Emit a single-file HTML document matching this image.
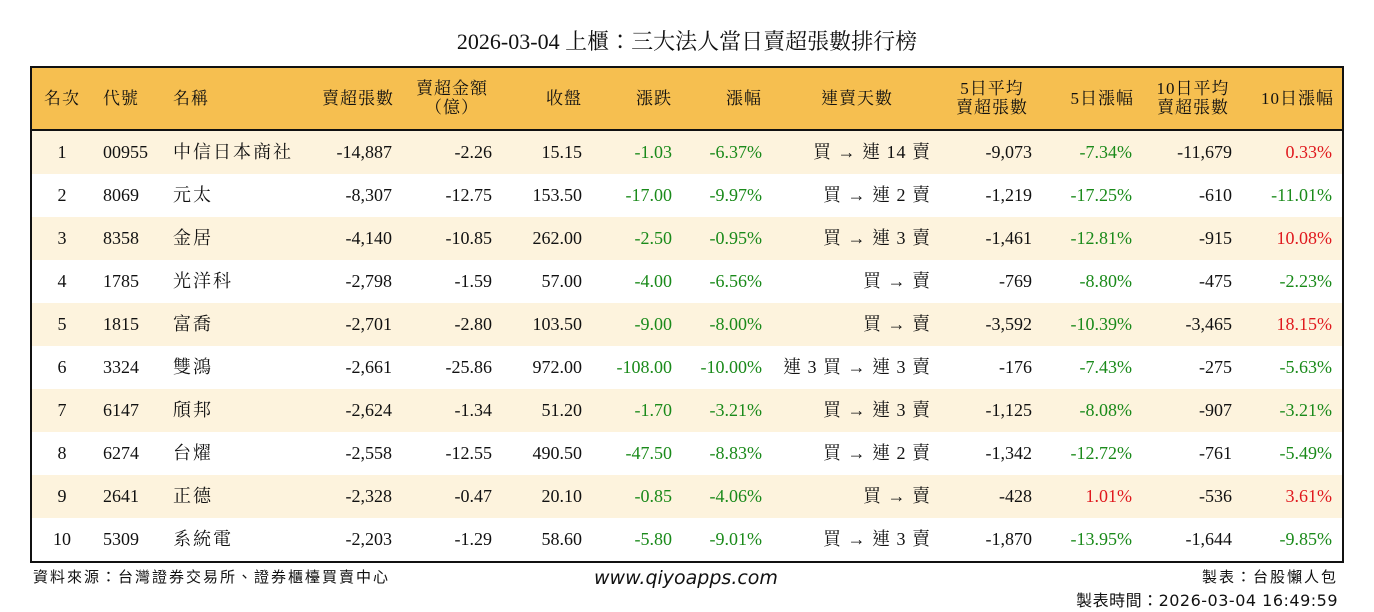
<!DOCTYPE html>
<html><head><meta charset="utf-8"><style>
body{margin:0;width:1374px;height:612px;background:#fff;position:relative;overflow:hidden;font-family:"Liberation Serif","Noto Serif CJK TC","Noto Serif CJK SC",serif;color:#111}
.t{position:absolute;top:26px;left:0;width:1374px;text-align:center;font-size:22px;line-height:32px}
.box{position:absolute;left:30px;top:66px;width:1310px;height:493px;border:2px solid #111}
.hd{position:absolute;left:0;top:0;width:1310px;height:61px;background:#F6BF50;border-bottom:3px solid #111}
.r{position:absolute;left:0;width:1310px;height:43px;line-height:43px;font-size:18px}
.r.o{background:#FDF3DD}
.c{position:absolute;white-space:nowrap}
.n{text-align:right}
.s{letter-spacing:1px}
.g{color:#1a8a1a}.red{color:#e0191e}
.h{position:absolute;font-size:17px;line-height:19px;text-align:center;white-space:nowrap;letter-spacing:1px}
.f{position:absolute;font-family:"DejaVu Sans","Noto Sans CJK TC",sans-serif;font-size:15px;letter-spacing:2px}
</style></head><body>
<div class="t">2026-03-04 上櫃：三大法人當日賣超張數排行榜</div>
<div class="box">
<div class="hd">
<div class="h" style="left:0;width:60px;top:21px">名次</div>
<div class="h" style="left:71px;top:21px">代號</div>
<div class="h" style="left:141px;top:21px">名稱</div>
<div class="h" style="left:282px;width:80px;top:21px;text-align:right">賣超張數</div>
<div class="h" style="left:380px;width:80px;top:11px">賣超金額<br>（億）</div>
<div class="h" style="left:500px;width:50px;top:21px;text-align:right">收盤</div>
<div class="h" style="left:590px;width:50px;top:21px;text-align:right">漲跌</div>
<div class="h" style="left:680px;width:50px;top:21px;text-align:right">漲幅</div>
<div class="h" style="left:785px;width:80px;top:21px">連賣天數</div>
<div class="h" style="left:918px;width:84px;top:11px">5日平均<br>賣超張數</div>
<div class="h" style="left:1020px;width:82px;top:21px;text-align:right">5日漲幅</div>
<div class="h" style="left:1118px;width:86px;top:11px">10日平均<br>賣超張數</div>
<div class="h" style="left:1210px;width:92px;top:21px;text-align:right">10日漲幅</div>
</div>
</div>
<div style="position:absolute;left:32px;top:131px">
<div class="r o" style="top:0"><span class="c" style="left:0;width:60px;text-align:center">1</span><span class="c" style="left:71px">00955</span><span class="c" style="left:141px;letter-spacing:2px">中信日本商社</span><span class="c n" style="right:950px">-14,887</span><span class="c n" style="right:850px">-2.26</span><span class="c n" style="right:760px">15.15</span><span class="c n g" style="right:670px">-1.03</span><span class="c n g" style="right:580px">-6.37%</span><span class="c n s" style="right:411px">買 → 連 14 賣</span><span class="c n" style="right:310px">-9,073</span><span class="c n g" style="right:210px">-7.34%</span><span class="c n" style="right:110px">-11,679</span><span class="c n red" style="right:10px">0.33%</span></div>
<div class="r" style="top:43px"><span class="c" style="left:0;width:60px;text-align:center">2</span><span class="c" style="left:71px">8069</span><span class="c" style="left:141px;letter-spacing:2px">元太</span><span class="c n" style="right:950px">-8,307</span><span class="c n" style="right:850px">-12.75</span><span class="c n" style="right:760px">153.50</span><span class="c n g" style="right:670px">-17.00</span><span class="c n g" style="right:580px">-9.97%</span><span class="c n s" style="right:411px">買 → 連 2 賣</span><span class="c n" style="right:310px">-1,219</span><span class="c n g" style="right:210px">-17.25%</span><span class="c n" style="right:110px">-610</span><span class="c n g" style="right:10px">-11.01%</span></div>
<div class="r o" style="top:86px"><span class="c" style="left:0;width:60px;text-align:center">3</span><span class="c" style="left:71px">8358</span><span class="c" style="left:141px;letter-spacing:2px">金居</span><span class="c n" style="right:950px">-4,140</span><span class="c n" style="right:850px">-10.85</span><span class="c n" style="right:760px">262.00</span><span class="c n g" style="right:670px">-2.50</span><span class="c n g" style="right:580px">-0.95%</span><span class="c n s" style="right:411px">買 → 連 3 賣</span><span class="c n" style="right:310px">-1,461</span><span class="c n g" style="right:210px">-12.81%</span><span class="c n" style="right:110px">-915</span><span class="c n red" style="right:10px">10.08%</span></div>
<div class="r" style="top:129px"><span class="c" style="left:0;width:60px;text-align:center">4</span><span class="c" style="left:71px">1785</span><span class="c" style="left:141px;letter-spacing:2px">光洋科</span><span class="c n" style="right:950px">-2,798</span><span class="c n" style="right:850px">-1.59</span><span class="c n" style="right:760px">57.00</span><span class="c n g" style="right:670px">-4.00</span><span class="c n g" style="right:580px">-6.56%</span><span class="c n s" style="right:411px">買 → 賣</span><span class="c n" style="right:310px">-769</span><span class="c n g" style="right:210px">-8.80%</span><span class="c n" style="right:110px">-475</span><span class="c n g" style="right:10px">-2.23%</span></div>
<div class="r o" style="top:172px"><span class="c" style="left:0;width:60px;text-align:center">5</span><span class="c" style="left:71px">1815</span><span class="c" style="left:141px;letter-spacing:2px">富喬</span><span class="c n" style="right:950px">-2,701</span><span class="c n" style="right:850px">-2.80</span><span class="c n" style="right:760px">103.50</span><span class="c n g" style="right:670px">-9.00</span><span class="c n g" style="right:580px">-8.00%</span><span class="c n s" style="right:411px">買 → 賣</span><span class="c n" style="right:310px">-3,592</span><span class="c n g" style="right:210px">-10.39%</span><span class="c n" style="right:110px">-3,465</span><span class="c n red" style="right:10px">18.15%</span></div>
<div class="r" style="top:215px"><span class="c" style="left:0;width:60px;text-align:center">6</span><span class="c" style="left:71px">3324</span><span class="c" style="left:141px;letter-spacing:2px">雙鴻</span><span class="c n" style="right:950px">-2,661</span><span class="c n" style="right:850px">-25.86</span><span class="c n" style="right:760px">972.00</span><span class="c n g" style="right:670px">-108.00</span><span class="c n g" style="right:580px">-10.00%</span><span class="c n s" style="right:411px">連 3 買 → 連 3 賣</span><span class="c n" style="right:310px">-176</span><span class="c n g" style="right:210px">-7.43%</span><span class="c n" style="right:110px">-275</span><span class="c n g" style="right:10px">-5.63%</span></div>
<div class="r o" style="top:258px"><span class="c" style="left:0;width:60px;text-align:center">7</span><span class="c" style="left:71px">6147</span><span class="c" style="left:141px;letter-spacing:2px">頎邦</span><span class="c n" style="right:950px">-2,624</span><span class="c n" style="right:850px">-1.34</span><span class="c n" style="right:760px">51.20</span><span class="c n g" style="right:670px">-1.70</span><span class="c n g" style="right:580px">-3.21%</span><span class="c n s" style="right:411px">買 → 連 3 賣</span><span class="c n" style="right:310px">-1,125</span><span class="c n g" style="right:210px">-8.08%</span><span class="c n" style="right:110px">-907</span><span class="c n g" style="right:10px">-3.21%</span></div>
<div class="r" style="top:301px"><span class="c" style="left:0;width:60px;text-align:center">8</span><span class="c" style="left:71px">6274</span><span class="c" style="left:141px;letter-spacing:2px">台燿</span><span class="c n" style="right:950px">-2,558</span><span class="c n" style="right:850px">-12.55</span><span class="c n" style="right:760px">490.50</span><span class="c n g" style="right:670px">-47.50</span><span class="c n g" style="right:580px">-8.83%</span><span class="c n s" style="right:411px">買 → 連 2 賣</span><span class="c n" style="right:310px">-1,342</span><span class="c n g" style="right:210px">-12.72%</span><span class="c n" style="right:110px">-761</span><span class="c n g" style="right:10px">-5.49%</span></div>
<div class="r o" style="top:344px"><span class="c" style="left:0;width:60px;text-align:center">9</span><span class="c" style="left:71px">2641</span><span class="c" style="left:141px;letter-spacing:2px">正德</span><span class="c n" style="right:950px">-2,328</span><span class="c n" style="right:850px">-0.47</span><span class="c n" style="right:760px">20.10</span><span class="c n g" style="right:670px">-0.85</span><span class="c n g" style="right:580px">-4.06%</span><span class="c n s" style="right:411px">買 → 賣</span><span class="c n" style="right:310px">-428</span><span class="c n red" style="right:210px">1.01%</span><span class="c n" style="right:110px">-536</span><span class="c n red" style="right:10px">3.61%</span></div>
<div class="r" style="top:387px"><span class="c" style="left:0;width:60px;text-align:center">10</span><span class="c" style="left:71px">5309</span><span class="c" style="left:141px;letter-spacing:2px">系統電</span><span class="c n" style="right:950px">-2,203</span><span class="c n" style="right:850px">-1.29</span><span class="c n" style="right:760px">58.60</span><span class="c n g" style="right:670px">-5.80</span><span class="c n g" style="right:580px">-9.01%</span><span class="c n s" style="right:411px">買 → 連 3 賣</span><span class="c n" style="right:310px">-1,870</span><span class="c n g" style="right:210px">-13.95%</span><span class="c n" style="right:110px">-1,644</span><span class="c n g" style="right:10px">-9.85%</span></div>
</div>
<div class="f" style="left:33px;top:566px">資料來源：台灣證券交易所、證券櫃檯買賣中心</div>
<div class="f" style="left:594px;top:567px;font-size:19px;font-style:italic;letter-spacing:0">www.qiyoapps.com</div>
<div class="f" style="right:36px;top:566px">製表：台股懶人包</div>
<div class="f" style="right:36px;top:587px;font-size:16px;letter-spacing:0.5px">製表時間：2026-03-04 16:49:59</div>
</body></html>
